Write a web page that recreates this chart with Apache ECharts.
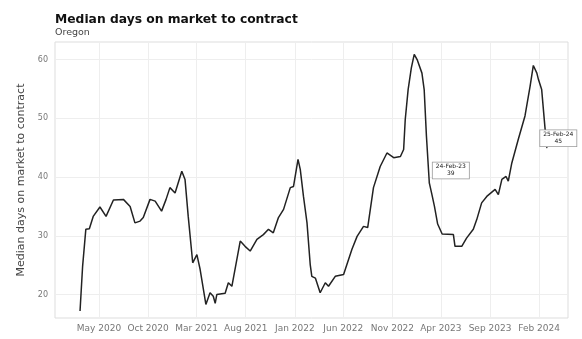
<!DOCTYPE html>
<html><head><meta charset="utf-8">
<script src="https://cdn.jsdelivr.net/npm/echarts@6/dist/echarts.min.js"></script>
<style>html,body{margin:0;padding:0;background:#fff}#c{width:582px;height:339px}</style>
</head><body><div id="c"></div>
<script>
const dates = ['2020-03-03','2020-03-11','2020-03-21','2020-04-01','2020-04-13','2020-05-04','2020-05-23','2020-06-15','2020-07-16','2020-08-06','2020-08-21','2020-09-06','2020-09-16','2020-10-07','2020-10-23','2020-11-12','2020-11-26','2020-12-08','2020-12-24','2021-01-14','2021-01-24','2021-02-03','2021-02-17','2021-03-02','2021-03-12','2021-03-30','2021-04-12','2021-04-22','2021-04-28','2021-05-03','2021-05-29','2021-06-08','2021-06-19','2021-07-15','2021-07-30','2021-08-15','2021-09-05','2021-09-25','2021-10-11','2021-10-26','2021-11-11','2021-11-27','2021-12-18','2021-12-28','2022-01-11','2022-01-18','2022-01-28','2022-02-08','2022-02-18','2022-02-23','2022-03-06','2022-03-21','2022-04-06','2022-04-16','2022-05-07','2022-06-02','2022-06-28','2022-07-14','2022-08-03','2022-08-16','2022-09-03','2022-09-24','2022-10-15','2022-11-05','2022-11-26','2022-12-06','2022-12-11','2022-12-20','2022-12-30','2023-01-08','2023-01-17','2023-02-01','2023-02-08','2023-02-15','2023-02-24','2023-03-05','2023-03-12','2023-03-22','2023-04-05','2023-05-10','2023-05-15','2023-06-05','2023-06-20','2023-07-11','2023-07-22','2023-08-06','2023-08-22','2023-09-17','2023-09-27','2023-10-08','2023-10-21','2023-10-28','2023-11-08','2023-11-28','2023-12-19','2024-01-04','2024-01-14','2024-01-25','2024-01-30','2024-02-09','2024-02-19','2024-02-25'];
const values = [17.2,24.8,31.1,31.2,33.3,34.9,33.3,36.1,36.2,35.0,32.2,32.5,33.1,36.2,35.9,34.2,36.2,38.2,37.3,41.0,39.6,33.3,25.4,26.8,24.3,18.3,20.3,19.7,18.5,20.0,20.2,22.0,21.4,29.1,28.2,27.4,29.4,30.2,31.1,30.5,33.1,34.5,38.2,38.4,43.0,41.3,36.7,32.2,25.1,23.1,22.8,20.3,22.0,21.4,23.1,23.4,27.7,29.9,31.6,31.4,38.2,41.8,44.1,43.3,43.5,44.7,49.8,54.9,58.6,60.9,60.0,57.7,54.9,47.0,39,36.8,35.0,32.0,30.3,30.2,28.2,28.2,29.6,31.1,32.8,35.6,36.7,37.9,37.0,39.6,40.1,39.3,42.4,46.4,50.4,55.5,59.0,57.7,56.6,54.9,48.6,45];
const xTickDates = ['2020-05-01','2020-10-01','2021-03-01','2021-08-01','2022-01-01','2022-06-01','2022-11-01','2023-04-01','2023-09-01','2024-02-01'];
const yTicks = [20,30,40,50,60];
const annotatedDates = ['2023-02-24','2024-02-25'];

const MON = ['Jan','Feb','Mar','Apr','May','Jun','Jul','Aug','Sep','Oct','Nov','Dec'];
const ts = s => { const p = s.split('-'); return Date.UTC(+p[0], +p[1]-1, +p[2]); };
const fmtTick = v => { const d = new Date(v); return MON[d.getUTCMonth()] + ' ' + d.getUTCFullYear(); };
const fmtAnn = s => { const p = s.split('-'); return p[2] + '-' + MON[+p[1]-1] + '-' + p[0].slice(2); };

const seriesData = dates.map((d, i) => [ts(d), values[i]]);
const annOffsets = [[22, -12], [12, -9]];
const markData = annotatedDates.map((d, k) => {
  const i = dates.indexOf(d);
  return {
    coord: [ts(d), values[i]],
    value: values[i],
    label: {
      show: true,
      formatter: fmtAnn(d) + '\n' + Math.round(values[i]),
      position: annOffsets[k],
      fontSize: 6, lineHeight: 7, color: '#222', fontFamily: 'DejaVu Sans',
      backgroundColor: '#fff', borderColor: '#999', borderWidth: 0.8,
      padding: [1, 3, 1, 3], align: 'center', verticalAlign: 'middle'
    }
  };
});

const chart = echarts.init(document.getElementById('c'), null, {renderer: 'canvas'});
chart.setOption({
  animation: false,
  backgroundColor: '#fff',
  title: {
    text: 'Median days on market to contract',
    subtext: 'Oregon',
    left: 50, top: 9, itemGap: 2,
    textStyle: {fontFamily: 'DejaVu Sans', fontWeight: 'bold', fontSize: 12.3, color: '#111'},
    subtextStyle: {fontFamily: 'DejaVu Sans', fontSize: 9.5, color: '#444'}
  },
  grid: {left: 55, right: 14, top: 42, bottom: 21, show: true, borderColor: '#ddd', borderWidth: 1},
  xAxis: {
    type: 'value',
    min: ts('2019-12-16'), max: ts('2024-05-01'),
    axisLine: {show: false}, axisTick: {show: false, customValues: xTickDates.map(ts)},
    axisLabel: {customValues: xTickDates.map(ts), formatter: fmtTick, fontSize: 9, color: '#777', fontFamily: 'DejaVu Sans', margin: 6, hideOverlap: false},
    splitLine: {show: true, lineStyle: {color: '#eee', width: 1}}
  },
  yAxis: {
    type: 'value', min: 16, max: 63,
    name: 'Median days on market to contract', nameLocation: 'middle', nameGap: 28,
    nameTextStyle: {fontFamily: 'DejaVu Sans', fontSize: 11, color: '#444'},
    axisLine: {show: false}, axisTick: {show: false, customValues: yTicks},
    axisLabel: {customValues: yTicks, fontSize: 8, color: '#777', fontFamily: 'DejaVu Sans', margin: 7},
    splitLine: {show: true, lineStyle: {color: '#eee', width: 1}}
  },
  series: [{
    type: 'line', data: seriesData, showSymbol: false,
    lineStyle: {color: '#222', width: 1.5},
    markPoint: {symbol: 'circle', symbolSize: 1, itemStyle: {color: '#333'}, data: markData}
  }]
});
</script>
</body></html>
